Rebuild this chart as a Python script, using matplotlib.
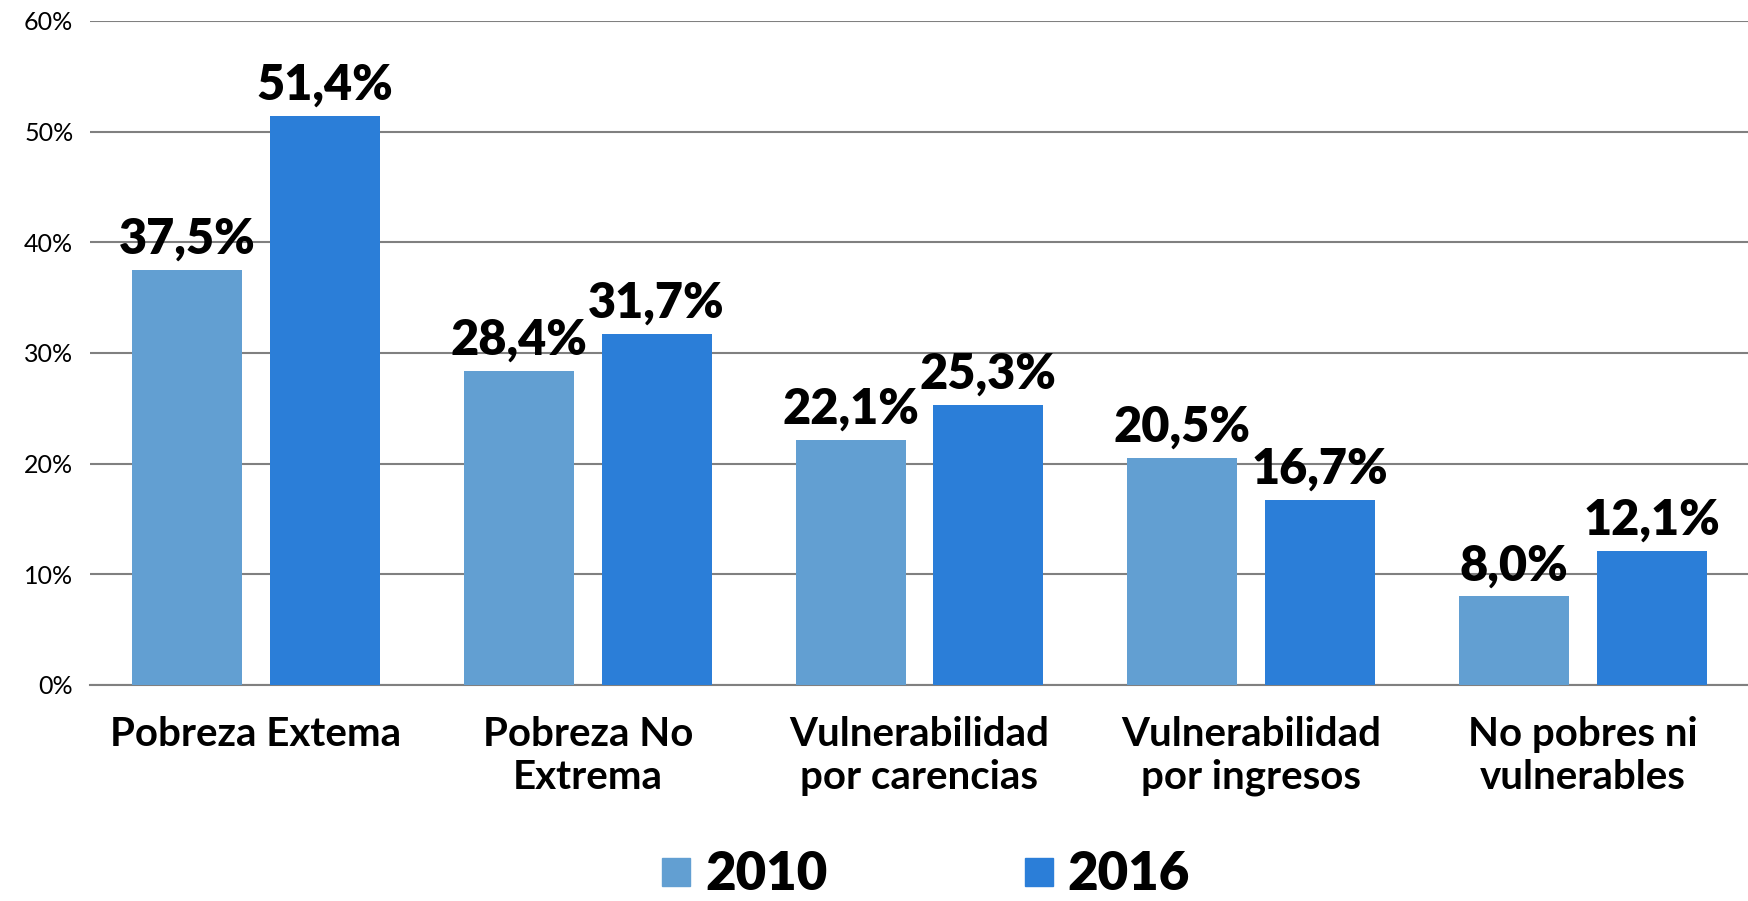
import matplotlib
matplotlib.use("Agg")
import matplotlib.pyplot as plt
from matplotlib.lines import Line2D
import numpy as np

categories = ["Pobreza Extema", "Pobreza No\nExtrema", "Vulnerabilidad\npor carencias",
              "Vulnerabilidad\npor ingresos", "No pobres ni\nvulnerables"]
series_names = ["2010", "2016"]
values_2010 = [37.5, 28.4, 22.1, 20.5, 8.0]
values_2016 = [51.4, 31.7, 25.3, 16.7, 12.1]
yticks = [0, 10, 20, 30, 40, 50, 60]
ytick_labels = ["0%", "10%", "20%", "30%", "40%", "50%", "60%"]

colors = ["#629FD2", "#2B7ED8"]
FONT = "Lato"
plt.rcParams["font.family"] = [FONT, "DejaVu Sans"]

fig = plt.figure(figsize=(17.49, 9.01), dpi=100)
ax = fig.add_axes([90/1749, 1-685/901, 1-90/1749, (685-21)/901])

x = np.arange(len(categories))
w = 0.3315
off = w/2 + 0.042
for vals, c, o in [(values_2010, colors[0], -off), (values_2016, colors[1], off)]:
    bars = ax.bar(x + o, vals, width=w, color=c, zorder=3)
    for b, v in zip(bars, vals):
        ax.annotate(f"{v:.1f}%".replace(".", ","), (b.get_x() + b.get_width()/2, v),
                    xytext=(0, 6), textcoords="offset points", ha="center", va="bottom",
                    fontsize=35, fontweight="heavy", color="black", zorder=4)

ax.set_xlim(-0.5, len(categories) - 0.5)
ax.set_ylim(0, 60)
ax.set_yticks(yticks)
ax.set_yticklabels(ytick_labels, fontsize=18, fontweight="normal", color="black")
ax.set_xticks(x)
ax.set_xticklabels(categories, fontsize=29, fontweight="bold", linespacing=1.2, va="top")
ax.tick_params(axis="both", length=0)
ax.tick_params(axis="x", pad=22)
ax.tick_params(axis="y", pad=12)
ax.yaxis.grid(True, color="#808080", linewidth=1.5, zorder=0)
for s in ["top", "right", "left"]:
    ax.spines[s].set_visible(False)
ax.spines["bottom"].set_color("#808080")
ax.spines["bottom"].set_linewidth(1.5)

handles = [Line2D([], [], marker="s", linestyle="none", markersize=20, color=c) for c in colors]
fig.legend(handles, series_names, loc="center", bbox_to_anchor=(0.529, 1-875/901), ncol=2,
           frameon=False, prop={"family": FONT, "weight": "heavy", "size": 38},
           handlelength=0.6, handletextpad=0.25, columnspacing=3.7, borderpad=0)

fig.savefig("out.png", dpi=100)
